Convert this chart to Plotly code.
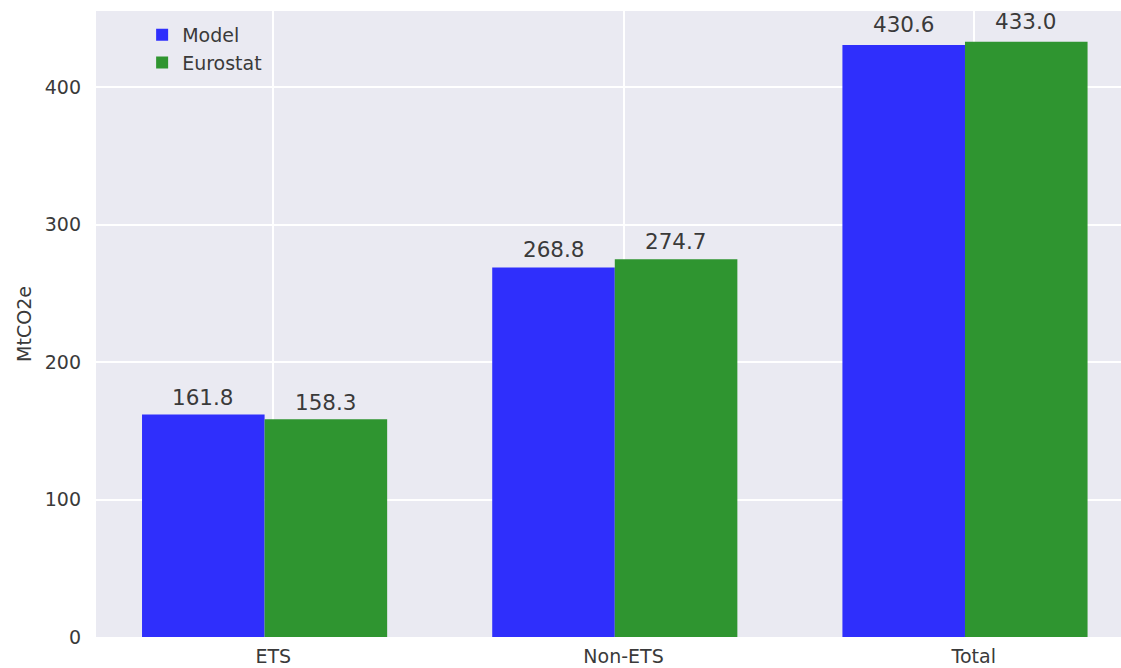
import plotly.graph_objects as go

categories = ["ETS", "Non-ETS", "Total"]
model_values = [161.8, 268.8, 430.6]
eurostat_values = [158.3, 274.7, 433.0]
y_ticks = [0, 100, 200, 300, 400]

BAR_W = 0.35
TICK_OFF = 0.2
idx = list(range(len(categories)))

BLUE = "rgb(47,47,252)"
GREEN = "rgb(47,149,48)"
BG = "#eaeaf2"
TXT = "#3a3a3a"
FONT = "DejaVu Sans"

fig = go.Figure()
fig.add_trace(go.Bar(
    x=[i for i in idx], y=model_values, width=BAR_W, name="Model",
    marker=dict(color=BLUE, line=dict(width=0)),
))
fig.add_trace(go.Bar(
    x=[i + BAR_W for i in idx], y=eurostat_values, width=BAR_W, name="Eurostat",
    marker=dict(color=GREEN, line=dict(width=0)),
))

for xs, vals in (([i for i in idx], model_values), ([i + BAR_W for i in idx], eurostat_values)):
    for x, v in zip(xs, vals):
        fig.add_annotation(
            x=x, y=v * 1.01, text=f"{v:.1f}", showarrow=False,
            xanchor="center", yanchor="bottom", yshift=0,
            font=dict(family=FONT, size=21.5, color=TXT),
        )

fig.update_layout(
    width=1121, height=668,
    margin=dict(l=96, r=0, t=11, b=31),
    paper_bgcolor="white",
    plot_bgcolor=BG,
    barmode="overlay",
    font=dict(family=FONT, size=19, color=TXT),
    showlegend=True,
    legend=dict(
        x=0.045, y=0.992, xanchor="left", yanchor="top",
        bgcolor="rgba(0,0,0,0)", font=dict(family=FONT, size=19, color=TXT),
        tracegroupgap=0,
    ),
    xaxis=dict(
        range=[-0.3064, 2.6205],
        tickmode="array",
        tickvals=[i + TICK_OFF for i in idx],
        ticktext=categories,
        showgrid=True, gridcolor="white", gridwidth=1.5,
        zeroline=False, showline=False, ticks="",
        tickfont=dict(family=FONT, size=19, color=TXT),
        ticklabelstandoff=6,
    ),
    yaxis=dict(
        range=[0, 455.3],
        tickmode="array", tickvals=y_ticks,
        showgrid=True, gridcolor="white", gridwidth=1.5,
        zeroline=False, showline=False, ticks="",
        tickfont=dict(family=FONT, size=19, color=TXT),
        ticklabelstandoff=14,
        title=dict(text="MtCO2e", font=dict(family=FONT, size=19, color=TXT), standoff=8),
    ),
)

fig.write_html("out.html", config={"displayModeBar": False})

# remove the default page margin so the figure sits at the window's top-left corner
with open("out.html", encoding="utf-8") as f:
    html = f.read()
html = html.replace("<body>", '<body style="margin:0;padding:0;overflow:hidden">', 1)
with open("out.html", "w", encoding="utf-8") as f:
    f.write(html)
